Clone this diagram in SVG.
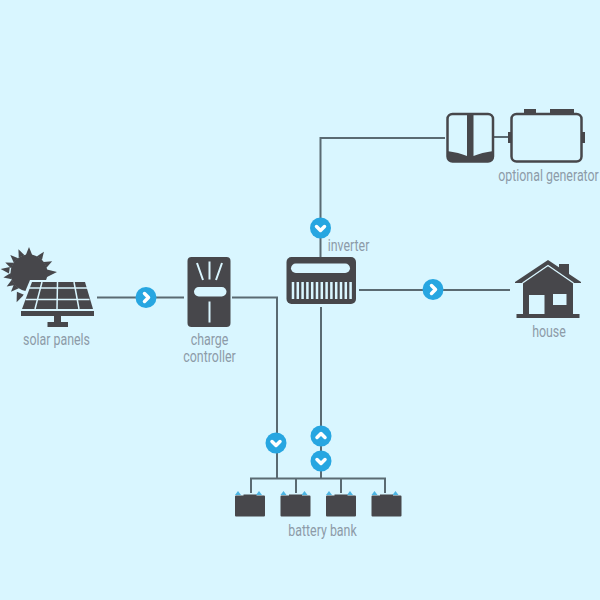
<svg xmlns="http://www.w3.org/2000/svg" width="600" height="600" viewBox="0 0 600 600">
<style>
.l{fill:none;stroke:#5a6a72;stroke-width:2}
.d{fill:#47474b}
.b{fill:#d9f6ff}
.s{fill:none;stroke:#d9f6ff;stroke-width:1.5}
.c{fill:#27a6e1}
.a{fill:none;stroke:#fff;stroke-width:3.500;stroke-linecap:round;stroke-linejoin:round}
.t{font-family:"Roboto","Liberation Sans",sans-serif;font-size:16px;fill:#8d9ba8;text-anchor:middle}
.g{fill:none;stroke:#47474b;stroke-width:2.500}
.tb{fill:#4cb5e3}
</style>
<defs>
<g id="bat">
<path class="tb" d="M3 0l3 4H0zM24 0l3 4h-6z" transform="translate(0,-4.500)"/>
<path class="d" d="M1 0h7.500v-1h13v1H29a1 1 0 0 1 1 1v19a1 1 0 0 1-1 1H1a1 1 0 0 1-1-1V1a1 1 0 0 1 1-1z"/>
</g>
<g id="cir"><circle class="c" r="10.500"/></g>
<polygon id="ray" class="d" points="-3.200,-18 0,-26 3.200,-18"/>
</defs>
<rect width="600" height="600" fill="#d9f6ff"/>
<g id="connectors">
<path class="l" d="M97 297.500H184"/>
<path class="l" d="M232 297.500H277V478"/>
<path class="l" d="M320.500 257V138H445"/>
<path class="l" d="M359 290H510"/>
<path class="l" d="M321 307V478"/>
<path class="l" d="M251 493V478.500H385V493M296 478.500V493M341 478.500V493"/>
<path class="l" d="M493 137H510"/>
<g transform="translate(146,297.500)"><use href="#cir"/><path class="a" d="M-1.500-4l4 4-4 4"/></g>
<g transform="translate(433,289.500)"><use href="#cir"/><path class="a" d="M-1.500-4l4 4-4 4"/></g>
<g transform="translate(320.500,228)"><use href="#cir"/><path class="a" d="M-4-1.500l4 4 4-4"/></g>
<g transform="translate(276,443)"><use href="#cir"/><path class="a" d="M-4-1.500l4 4 4-4"/></g>
<g transform="translate(321,436)"><use href="#cir"/><path class="a" d="M-4 1.500l4-4 4 4"/></g>
<g transform="translate(321,461)"><use href="#cir"/><path class="a" d="M-4-1.500l4 4 4-4"/></g>
</g>
<g id="solar-panels">
<circle class="d" cx="29" cy="273" r="18.500"/>
<g transform="translate(29,273)">
<use href="#ray"/>
<use href="#ray" transform="rotate(35)"/>
<use href="#ray" transform="rotate(63)"/>
<use href="#ray" transform="rotate(-24)"/>
<use href="#ray" transform="rotate(-46)"/>
<use href="#ray" transform="rotate(-66)"/>
<use href="#ray" transform="rotate(-82) scale(1,1.100)"/>
<use href="#ray" transform="rotate(-100)"/>
<use href="#ray" transform="rotate(-121)"/>
<use href="#ray" transform="rotate(-136)"/>
<use href="#ray" transform="rotate(-157) scale(1.200,1.220)"/>
</g>
<path class="d" d="M47 269.500l10 2.500-10 5z"/>
<path class="b" d="M30 280h62l8 31H17z"/>
<path class="d" d="M32 282h53l8 27H22z"/>
<path class="s" d="M29 288h58.500M25.500 299.500h64M42 282l-7 27M57.500 282l-.5 27M74 282l5 27"/>
<rect class="d" x="21" y="311" width="73" height="5"/>
<rect class="d" x="54" y="316" width="7" height="7"/>
<rect class="d" x="47.500" y="322" width="20.500" height="5"/>
<text class="t" transform="translate(56.500,345) scale(.775,1)">solar panels</text>
</g>
<g id="charge-controller">
<rect class="d" x="187.500" y="257" width="43" height="70" rx="4"/>
<rect class="b" x="194" y="287" width="32.500" height="9.500" rx="4.750"/>
<path d="M197 263l6 17M209.500 261.500v18M222 263l-6 17M209.500 301.500v21" fill="none" stroke="#d9f6ff" stroke-width="2"/>
<text class="t" transform="translate(209.500,345) scale(.775,1)">charge</text>
<text class="t" transform="translate(209.500,362) scale(.775,1)">controller</text>
</g>
<g id="inverter">
<rect class="d" x="286.500" y="257" width="69.500" height="47" rx="5"/>
<rect class="b" x="291" y="263.500" width="59" height="9.500" rx="4.750"/>
<path d="M293 282v17M297.800 282v17M302.600 282v17M307.400 282v17M312.200 282v17M317 282v17M321.800 282v17M326.600 282v17M331.400 282v17M336.200 282v17M341 282v17M345.800 282v17M350.600 282v17" fill="none" stroke="#d9f6ff" stroke-width="2.500"/>
<text class="t" transform="translate(348.500,251) scale(.775,1)">inverter</text>
</g>
<g id="optional-generator">
<rect class="g" x="447.500" y="114" width="45.500" height="47.500" rx="5"/>
<path class="d" d="M447 151q12 1.500 20 5v-43h6.500v43q8-3.500 20-5v6a5 5 0 0 1-5 5h-36a5 5 0 0 1-5-5z"/>
<rect class="g" x="511.500" y="114" width="70" height="47.500" rx="5"/>
<path class="d" d="M524 109h12v5h-12zM550 109h24v5h-24zM508 132h3.500v11H508zM581 132h4v11h-4z"/>
<text class="t" transform="translate(548.500,181) scale(.775,1)">optional generator</text>
</g>
<g id="house">
<path class="d" d="M559 264h10v16h-10z"/>
<path class="d" d="M548 260l33 22v1h-8v31h6.500v4h-63v-4h6.500V283h-8v-1z"/>
<path d="M522.500 283L548 265.500L573.500 283" fill="none" stroke="#d9f6ff" stroke-width="1.300"/>
<rect class="b" x="529" y="295" width="15.500" height="19"/>
<rect class="b" x="553" y="294" width="13.500" height="11"/>
<text class="t" transform="translate(549,337) scale(.775,1)">house</text>
</g>
<g id="battery-bank">
<use href="#bat" x="235" y="495.500"/>
<use href="#bat" x="280.500" y="495.500"/>
<use href="#bat" x="326" y="495.500"/>
<use href="#bat" x="371.500" y="495.500"/>
<text class="t" transform="translate(322.500,536) scale(.775,1)">battery bank</text>
</g>
</svg>
